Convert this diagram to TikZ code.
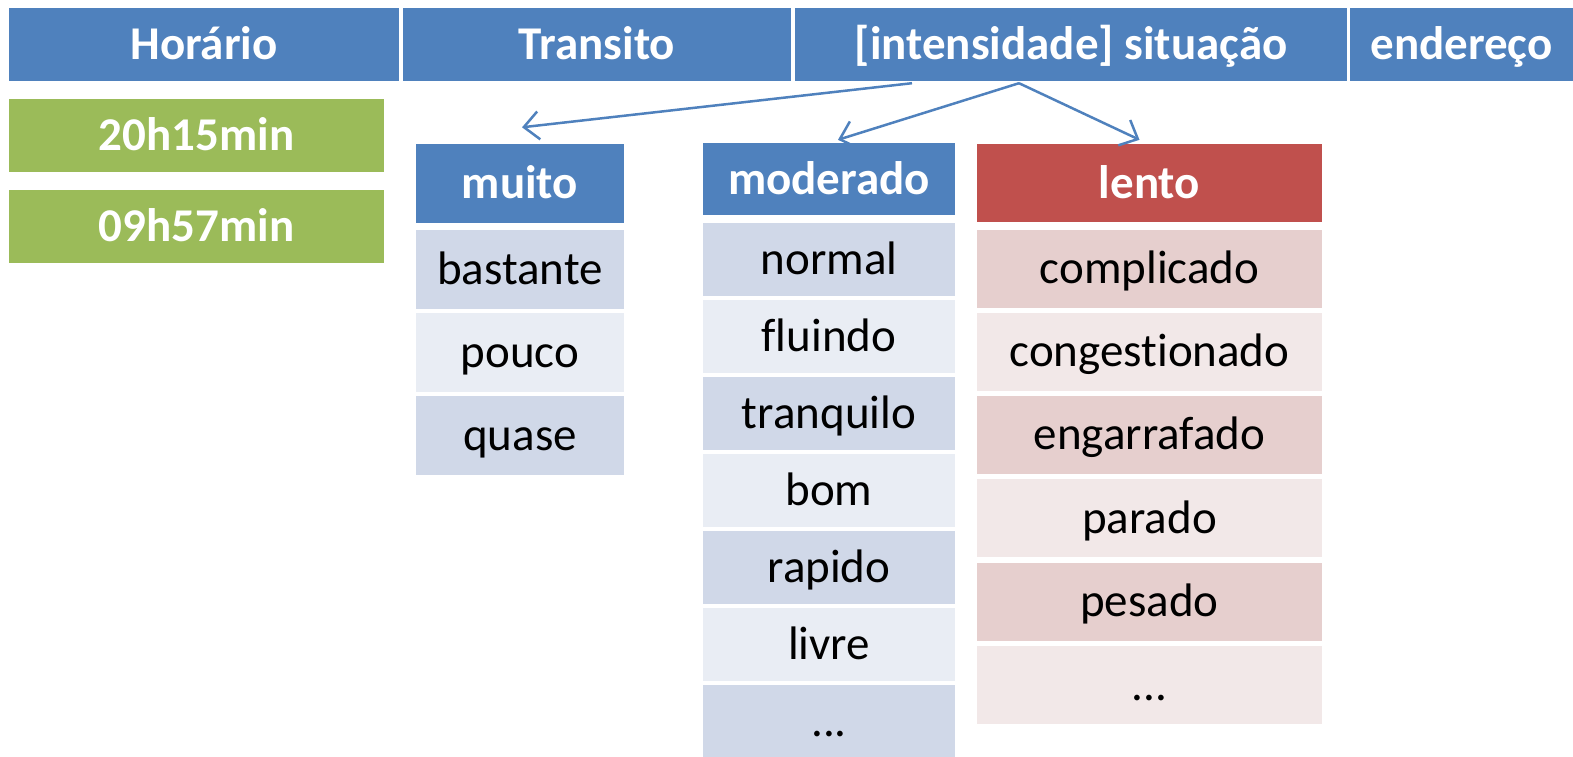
\documentclass[tikz,border=0pt]{standalone}
\usepackage{fontspec}
\setmainfont{Carlito}[Ligatures=NoCommon]
\usetikzlibrary{arrows.meta}

\definecolor{bleu}{HTML}{4F81BD}
\definecolor{vert}{HTML}{9BBB59}
\definecolor{rouge}{HTML}{C0504D}
\definecolor{bleuA}{HTML}{D0D8E8}
\definecolor{bleuB}{HTML}{E9EDF4}
\definecolor{rougeA}{HTML}{E6CFCE}
\definecolor{rougeB}{HTML}{F2E8E8}

\newcommand\grand{\fontsize{47pt}{56pt}\selectfont}

\tikzset{
  cell/.style={inner sep=0pt, text height=30pt, text depth=0pt, font=\grand},
  titre/.style={cell, fill=bleu, text=white, font=\grand\bfseries},
  heure/.style={cell, fill=vert, text=white, font=\grand\bfseries, minimum width=375pt, minimum height=73pt},
  colM/.style={minimum width=208pt, minimum height=79pt},
  colD/.style={minimum width=252pt, minimum height=73pt},
  colL/.style={minimum width=345pt, minimum height=78pt},
  fleche/.style={->, draw=bleu, line width=2.5pt}
}

\begin{document}
\begin{tikzpicture}[x=1pt,y=-1pt,>={Straight Barb[length=15pt,width=28pt]}]
\useasboundingbox (0,0) rectangle (1573,756);

% entetes
\node(Hor)[titre, minimum width=390pt, minimum height=73pt] at (204,44.5) {Horário};
\node(Tra)[titre, minimum width=388pt, minimum height=73pt] at (597,44.5) {Transito};
\node(Sit)[titre, minimum width=552pt, minimum height=73pt] at (1071,44.5) {[intensidade] situação};
\node(End)[titre, minimum width=223pt, minimum height=73pt] at (1461.5,44.5) {endereço};

\node(H1)[heure] at (196.5,135.5) {20h15min};
\node(H2)[heure] at (196.5,226) {09h57min};

% muito
\node(Mui)[titre, colM] at (520,183) {muito};
\node(M1)[cell, colM, fill=bleuA] at (520,269) {bastante};
\node(M2)[cell, colM, fill=bleuB] at (520,352) {pouco};
\node(M3)[cell, colM, fill=bleuA] at (520,435) {quase};

% moderado
\node(Mod)[titre, colD, minimum height=72pt] at (829,179) {moderado};
\node(D1)[cell, colD, fill=bleuA] at (829,259.5) {normal};
\node(D2)[cell, colD, fill=bleuB] at (829,336.5) {fluindo};
\node(D3)[cell, colD, fill=bleuA] at (829,413.5) {tranquilo};
\node(D4)[cell, colD, fill=bleuB] at (829,490.5) {bom};
\node(D5)[cell, colD, fill=bleuA] at (829,567.5) {rapido};
\node(D6)[cell, colD, fill=bleuB] at (829,644.5) {livre};
\node(D7)[cell, colD, fill=bleuA] at (829,721.5) {...};

% lento
\node(Len)[titre, colL, fill=rouge] at (1149.5,183) {lento};
\node(L1)[cell, colL, fill=rougeA] at (1149.5,268.5) {complicado};
\node(L2)[cell, colL, fill=rougeB] at (1149.5,351.5) {congestionado};
\node(L3)[cell, colL, fill=rougeA] at (1149.5,434.5) {engarrafado};
\node(L4)[cell, colL, fill=rougeB] at (1149.5,518) {parado};
\node(L5)[cell, colL, fill=rougeA] at (1149.5,601.5) {pesado};
\node(L6)[cell, colL, fill=rougeB] at (1149.5,685) {...};

\draw[fleche] ([xshift=-159pt,yshift=-2pt]Sit.south) -- ([xshift=2pt,yshift=16pt]Mui.north);
\draw[fleche] ([xshift=-52pt,yshift=-2pt]Sit.south) -- ([xshift=9pt,yshift=3pt]Mod.north);
\draw[fleche] ([xshift=-52pt,yshift=-2pt]Sit.south) -- ([xshift=-10pt,yshift=4pt]Len.north);
\end{tikzpicture}
\end{document}
